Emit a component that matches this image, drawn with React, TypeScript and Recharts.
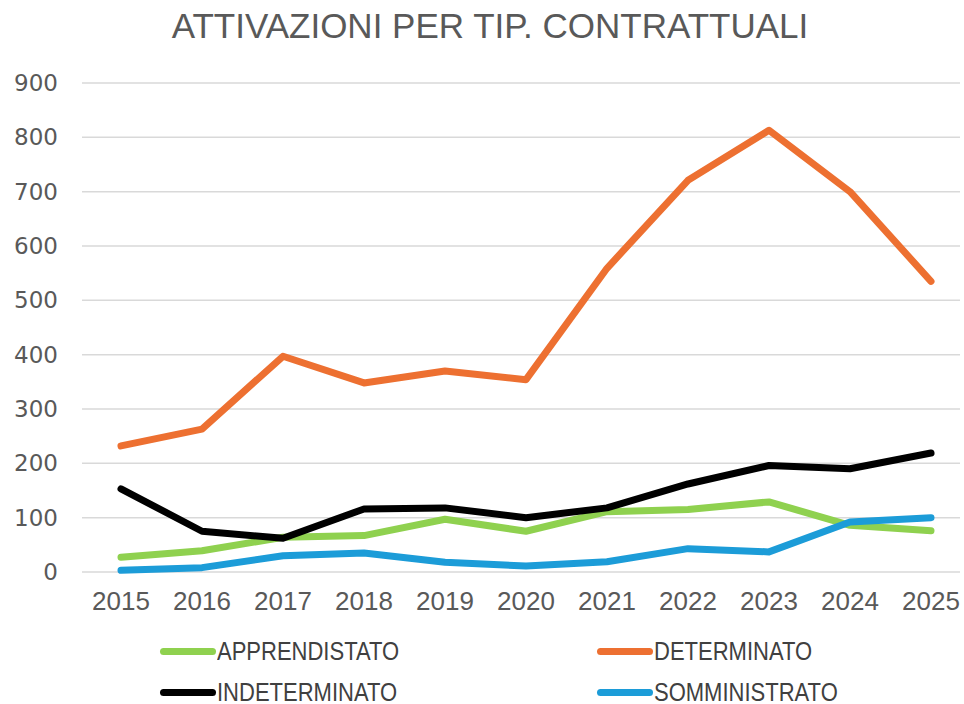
import { LineChart, Line, XAxis, YAxis, CartesianGrid } from 'recharts'

const YEARS = ['2015', '2016', '2017', '2018', '2019', '2020', '2021', '2022', '2023', '2024', '2025']
const APPRENDISTATO = [27, 39, 64, 67, 97, 75, 111, 115, 129, 86, 76]
const DETERMINATO = [232, 263, 397, 348, 370, 354, 559, 721, 813, 700, 535]
const INDETERMINATO = [153, 75, 62, 116, 118, 100, 118, 162, 196, 190, 219]
const SOMMINISTRATO = [3, 8, 30, 35, 18, 11, 19, 43, 37, 92, 100]
const Y_TICKS = [0, 100, 200, 300, 400, 500, 600, 700, 800, 900]

const TITLE = 'ATTIVAZIONI PER TIP. CONTRATTUALI'

const SERIES = [
  { key: 'apprendistato', name: 'APPRENDISTATO', color: '#8FD14F' },
  { key: 'determinato', name: 'DETERMINATO', color: '#ED7031' },
  { key: 'indeterminato', name: 'INDETERMINATO', color: '#000000' },
  { key: 'somministrato', name: 'SOMMINISTRATO', color: '#1C9CD8' },
]

const data = YEARS.map((year, i) => ({
  year,
  apprendistato: APPRENDISTATO[i],
  determinato: DETERMINATO[i],
  indeterminato: INDETERMINATO[i],
  somministrato: SOMMINISTRATO[i],
}))

// legend laid out as a 2x2 grid like the original
const LEGEND_POS = [
  { left: 160, top: 651 },
  { left: 597, top: 651 },
  { left: 160, top: 692 },
  { left: 597, top: 692 },
]

export default function App() {
  return (
    <div
      style={{
        position: 'absolute',
        left: 0,
        top: 0,
        width: 964,
        height: 704,
        background: '#fff',
        overflow: 'hidden',
        fontFamily: '"Liberation Sans", Arial, sans-serif',
      }}
    >
      <div
        style={{
          position: 'absolute',
          top: 6,
          left: 0,
          width: 980,
          textAlign: 'center',
          fontSize: 35,
          color: '#595959',
          whiteSpace: 'nowrap',
        }}
      >
        {TITLE}
      </div>
      <LineChart width={964} height={704} data={data} margin={{ top: 83, right: 4, bottom: 72, left: 0 }}>
        <CartesianGrid stroke="#D9D9D9" strokeWidth={1.5} vertical={false} />
        <XAxis
          dataKey="year"
          axisLine={false}
          tickLine={false}
          padding={{ left: 39, right: 29 }}
          tick={{ fill: '#595959', fontSize: 26, fontFamily: '"Liberation Sans", Arial, sans-serif' }}
          tickMargin={14}
          height={60}
        />
        <YAxis
          domain={[0, 900]}
          ticks={Y_TICKS}
          axisLine={false}
          tickLine={false}
          width={82}
          tick={{ fill: '#595959', fontSize: 23, fontFamily: '"DejaVu Sans", sans-serif' }}
          tickMargin={18}
        />
        {SERIES.map((s) => (
          <Line
            key={s.key}
            type="linear"
            dataKey={s.key}
            name={s.name}
            stroke={s.color}
            strokeWidth={7}
            strokeLinecap="round"
            strokeLinejoin="round"
            dot={false}
            isAnimationActive={false}
          />
        ))}
      </LineChart>
      {SERIES.map((s, i) => (
        <div
          key={s.key}
          style={{
            position: 'absolute',
            left: LEGEND_POS[i].left,
            top: LEGEND_POS[i].top - 15,
            height: 30,
            display: 'flex',
            alignItems: 'center',
          }}
        >
          <div style={{ width: 56, height: 7, borderRadius: 4, background: s.color }} />
          <span
            style={{
              display: 'inline-block',
              marginLeft: 1,
              fontSize: 25,
              color: '#404040',
              whiteSpace: 'nowrap',
              transform: 'scaleX(0.88)',
              transformOrigin: 'left center',
            }}
          >
            {s.name}
          </span>
        </div>
      ))}
    </div>
  )
}
